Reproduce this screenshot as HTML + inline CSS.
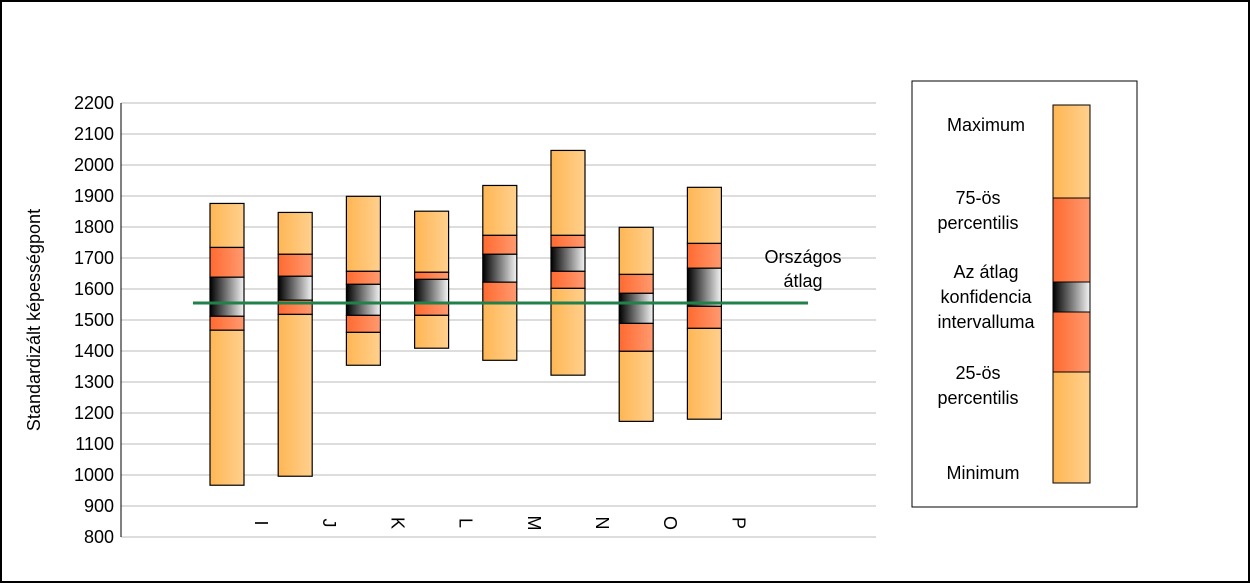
<!DOCTYPE html>
<html><head><meta charset="utf-8"><style>
body{margin:0;background:#fff}
svg{display:block;font-family:"Liberation Sans",Arial,sans-serif}
</style></head><body>
<svg id="chart" width="1250" height="583" viewBox="0 0 1250 583">
<defs>
<linearGradient id="gO" x1="0" x2="1"><stop offset="0" stop-color="#ffb654"/><stop offset="1" stop-color="#ffd08e"/></linearGradient>
<linearGradient id="gR" x1="0" x2="1"><stop offset="0" stop-color="#ff6a30"/><stop offset="1" stop-color="#ff9a70"/></linearGradient>
<linearGradient id="gB" x1="0" x2="1"><stop offset="0" stop-color="#000"/><stop offset="1" stop-color="#f4f4f4"/></linearGradient>
</defs>
<rect x="1" y="1" width="1248" height="581" fill="#fff" stroke="#000" stroke-width="2"/>
<g id="grid"></g>
<g id="bars"></g>
<g id="labels"></g>
<text transform="translate(40,320) rotate(-90)" text-anchor="middle" font-size="18">Standardizált képességpont</text>
<text x="803" y="263" text-anchor="middle" font-size="18">Országos</text>
<text x="803" y="287" text-anchor="middle" font-size="18">átlag</text>
<g>
<rect x="912" y="81" width="225" height="426" fill="#fff" stroke="#000" stroke-width="1"/>
<rect x="1053" y="105" width="37" height="93" fill="url(#gO)" stroke="#000"/>
<rect x="1053" y="198" width="37" height="84" fill="url(#gR)" stroke="#000"/>
<rect x="1053" y="282" width="37" height="30" fill="url(#gB)" stroke="#000"/>
<rect x="1053" y="312" width="37" height="60" fill="url(#gR)" stroke="#000"/>
<rect x="1053" y="372" width="37" height="111" fill="url(#gO)" stroke="#000"/>
<g font-size="18" text-anchor="middle">
<text x="986" y="131">Maximum</text>
<text x="978" y="204">75-ös</text>
<text x="978" y="229">percentilis</text>
<text x="986" y="278">Az átlag</text>
<text x="986" y="303">konfidencia</text>
<text x="986" y="328">intervalluma</text>
<text x="978" y="379">25-ös</text>
<text x="978" y="404">percentilis</text>
<text x="983" y="479">Minimum</text>
</g>
</g>
</svg>
<script>
const categories=["I","J","K","L","M","N","O","P"];
const maxV=[1876,1847,1899,1851,1934,2047,1799,1928];
const p75=[1734,1712,1657,1654,1773,1773,1647,1747];
const ciTop=[1638,1641,1615,1631,1712,1734,1586,1667];
const ciBot=[1512,1564,1515,1557,1622,1657,1489,1544];
const p25=[1467,1518,1460,1515,1555,1602,1399,1473];
const minV=[967,996,1354,1409,1370,1322,1173,1180];
const nationalAvg=1555;
const yTicks=[800,900,1000,1100,1200,1300,1400,1500,1600,1700,1800,1900,2000,2100,2200];
const NS="http://www.w3.org/2000/svg";
const y=v=>165+(2000-v)*0.31;
const xc=i=>227+i*68.2;
const bw=34;
function mk(t,a,p){const e=document.createElementNS(NS,t);for(const k in a)e.setAttribute(k,a[k]);p.appendChild(e);return e;}
const grid=document.getElementById('grid'),bars=document.getElementById('bars'),labels=document.getElementById('labels');
yTicks.forEach(v=>{
 const l=mk('line',{x1:121,x2:876,y1:y(v),y2:y(v),stroke:'#bbb','stroke-width':1},grid);
 
 
 const t=mk('text',{x:114,y:y(v)+6,'text-anchor':'end','font-size':18},labels);
 t.textContent=v;
 
 
});
const ax=mk('line',{x1:121,x2:121,y1:y(2200),y2:y(800),stroke:'#000'},grid);


categories.forEach((c,i)=>{
 const g=mk('g',{},bars);
 
 
 const segs=[[maxV[i],p75[i],'url(#gO)'],[p75[i],ciTop[i],'url(#gR)'],[ciTop[i],ciBot[i],'url(#gB)'],[ciBot[i],p25[i],'url(#gR)'],[p25[i],minV[i],'url(#gO)']];
 segs.forEach(s=>{mk('rect',{x:xc(i)-bw/2,y:y(s[0]),width:bw,height:y(s[1])-y(s[0]),fill:s[2],stroke:'#000','stroke-width':1.2},g);});
 const t=mk('text',{transform:`translate(${xc(i)+28},523) rotate(90)`,'font-size':18,'text-anchor':'middle'},labels);
 t.textContent=c;
 
 
});
const avg=mk('line',{x1:193,x2:808,y1:y(nationalAvg),y2:y(nationalAvg),stroke:'#22804a','stroke-width':3},bars);


</script>
</body></html>
